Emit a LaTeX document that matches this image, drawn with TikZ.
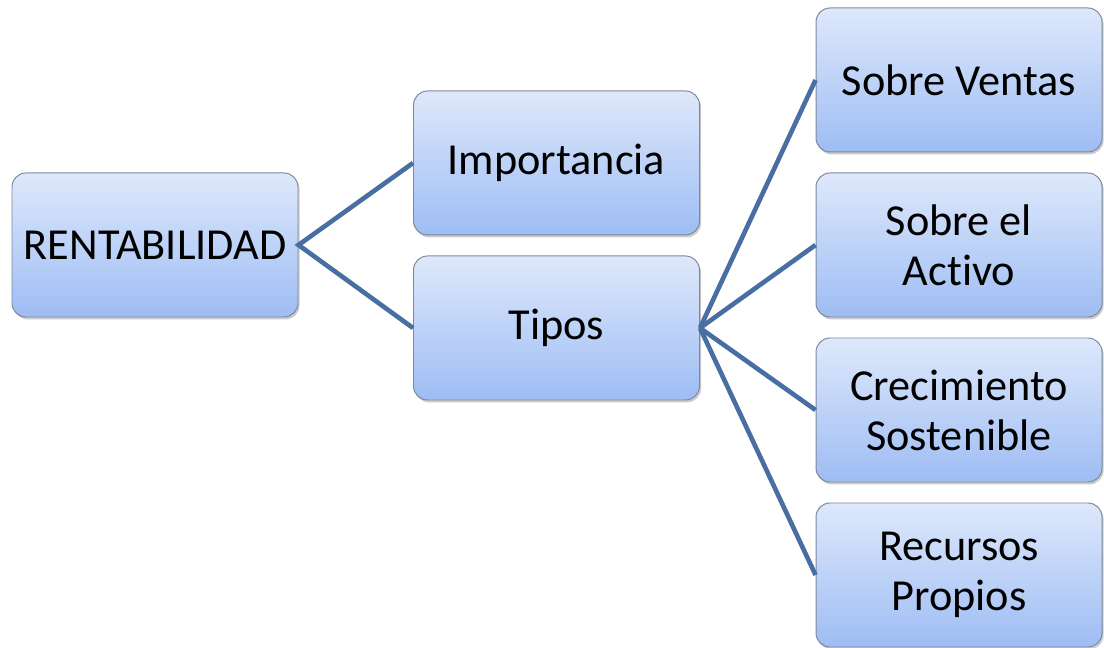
\documentclass[tikz,border=0pt]{standalone}
\usepackage{fontspec}
\setmainfont[Ligatures=NoCommon]{Carlito}
\usetikzlibrary{shadows}
\definecolor{boxtop}{RGB}{222,232,251}
\definecolor{boxbot}{RGB}{158,189,244}
\definecolor{boxline}{RGB}{125,136,156}
\definecolor{linkblue}{RGB}{72,110,162}
\tikzset{
  item/.style={draw=boxline, line width=0.7pt, rounded corners=0.35cm,
    top color=boxtop, bottom color=boxbot,
    minimum width=7.15cm, minimum height=3.6cm, align=center,
    font=\fontsize{31.5}{35.6}\selectfont,
    drop shadow={shadow xshift=0.04cm, shadow yshift=-0.06cm, opacity=0.4}},
  link/.style={draw=linkblue, line width=3.3pt}
}
\begin{document}
\begin{tikzpicture}
\useasboundingbox (0,0) rectangle (27.6,16.2);
\node[item] (rent) at (3.875,10.075) {RENTABILIDAD};
\node[item] (imp) at (13.9125,12.125) {Importancia};
\node[item] (tipos) at (13.9125,8.0) {Tipos};
\node[item] (ventas) at (23.975,14.2) {Sobre Ventas};
\node[item] (activo) at (23.975,10.075) {Sobre el\\Activo};
\node[item] (crec) at (23.975,5.95) {Crecimiento\\Sostenible};
\node[item] (recursos) at (23.975,1.825) {Recursos\\Propios};
\draw[link] (imp.west) -- (rent.east) -- (tipos.west);
\foreach \t in {ventas,activo,crec,recursos}
  \draw[link] (tipos.east) -- (\t.west);
\end{tikzpicture}
\end{document}
